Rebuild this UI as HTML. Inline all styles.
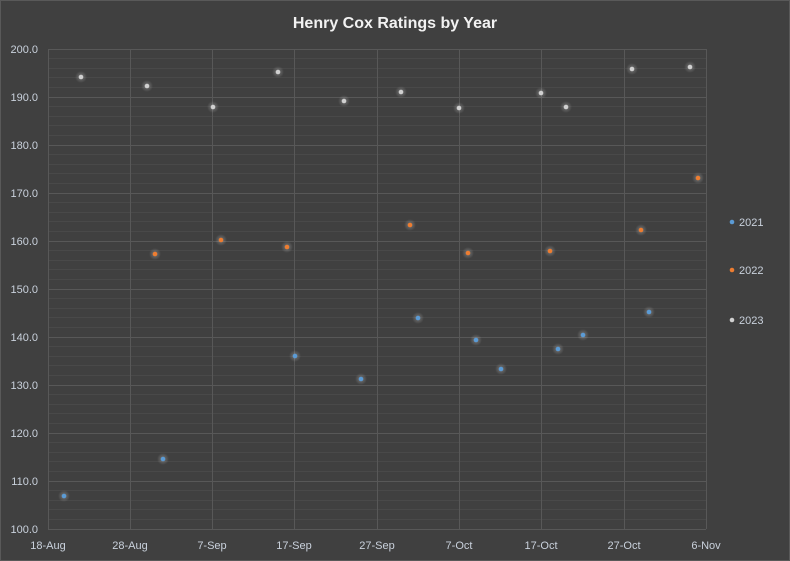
<!DOCTYPE html>
<html><head><style>body{margin:0;background:#404040}svg{display:block}</style></head><body>
<svg width="790" height="561" xmlns="http://www.w3.org/2000/svg" font-family="Liberation Sans, sans-serif">
<defs>
<radialGradient id="gw"><stop offset="0" stop-color="#fff" stop-opacity="0.3"/><stop offset="1" stop-color="#fff" stop-opacity="0"/></radialGradient>
</defs>
<rect x="0.5" y="0.5" width="789" height="560" fill="#404040" stroke="#595959"/>
<text x="395" y="28" text-anchor="middle" font-size="16" font-weight="bold" fill="#f2f2f2">Henry Cox Ratings by Year</text>
<g stroke="#494949" stroke-width="1" shape-rendering="crispEdges">
<path d="M48 58.5H706M48 68.5H706M48 77.5H706M48 87.5H706M48 106.5H706M48 116.5H706M48 125.5H706M48 135.5H706M48 154.5H706M48 164.5H706M48 173.5H706M48 183.5H706M48 202.5H706M48 212.5H706M48 221.5H706M48 231.5H706M48 250.5H706M48 260.5H706M48 269.5H706M48 279.5H706M48 298.5H706M48 308.5H706M48 317.5H706M48 327.5H706M48 346.5H706M48 356.5H706M48 365.5H706M48 375.5H706M48 394.5H706M48 404.5H706M48 413.5H706M48 423.5H706M48 442.5H706M48 452.5H706M48 461.5H706M48 471.5H706M48 490.5H706M48 500.5H706M48 509.5H706M48 519.5H706"/>
</g>
<g stroke="#585858" stroke-width="1" shape-rendering="crispEdges">
<path d="M48 49.5H706M48 97.5H706M48 145.5H706M48 193.5H706M48 241.5H706M48 289.5H706M48 337.5H706M48 385.5H706M48 433.5H706M48 481.5H706M48 529.5H706"/>
<path d="M48.5 49V529M130.5 49V529M212.5 49V529M294.5 49V529M377.5 49V529M459.5 49V529M541.5 49V529M624.5 49V529M706.5 49V529"/>
</g>
<g font-size="11" fill="#c9d1dc" text-anchor="end">
<text x="38" y="53">200.0</text><text x="38" y="101">190.0</text><text x="38" y="149">180.0</text><text x="38" y="197">170.0</text><text x="38" y="245">160.0</text><text x="38" y="293">150.0</text><text x="38" y="341">140.0</text><text x="38" y="389">130.0</text><text x="38" y="437">120.0</text><text x="38" y="485">110.0</text><text x="38" y="533">100.0</text>
</g>
<g font-size="11" fill="#c9d1dc" text-anchor="middle">
<text x="48" y="549">18-Aug</text><text x="130" y="549">28-Aug</text><text x="212" y="549">7-Sep</text><text x="294" y="549">17-Sep</text><text x="377" y="549">27-Sep</text><text x="459" y="549">7-Oct</text><text x="541" y="549">17-Oct</text><text x="624" y="549">27-Oct</text><text x="706" y="549">6-Nov</text>
</g>
<g fill="#5b9bd5">
<circle cx="64" cy="496" r="6" fill="url(#gw)"/><circle cx="64" cy="496" r="2.3"/>
<circle cx="163" cy="459" r="6" fill="url(#gw)"/><circle cx="163" cy="459" r="2.3"/>
<circle cx="295" cy="356" r="6" fill="url(#gw)"/><circle cx="295" cy="356" r="2.3"/>
<circle cx="361" cy="379" r="6" fill="url(#gw)"/><circle cx="361" cy="379" r="2.3"/>
<circle cx="418" cy="318" r="6" fill="url(#gw)"/><circle cx="418" cy="318" r="2.3"/>
<circle cx="476" cy="340" r="6" fill="url(#gw)"/><circle cx="476" cy="340" r="2.3"/>
<circle cx="501" cy="369" r="6" fill="url(#gw)"/><circle cx="501" cy="369" r="2.3"/>
<circle cx="558" cy="349" r="6" fill="url(#gw)"/><circle cx="558" cy="349" r="2.3"/>
<circle cx="583" cy="335" r="6" fill="url(#gw)"/><circle cx="583" cy="335" r="2.3"/>
<circle cx="649" cy="312" r="6" fill="url(#gw)"/><circle cx="649" cy="312" r="2.3"/>
<circle cx="732" cy="222" r="2.3"/>
</g>
<g fill="#ed7d31">
<circle cx="155" cy="254" r="6" fill="url(#gw)"/><circle cx="155" cy="254" r="2.3"/>
<circle cx="221" cy="240" r="6" fill="url(#gw)"/><circle cx="221" cy="240" r="2.3"/>
<circle cx="287" cy="247" r="6" fill="url(#gw)"/><circle cx="287" cy="247" r="2.3"/>
<circle cx="410" cy="225" r="6" fill="url(#gw)"/><circle cx="410" cy="225" r="2.3"/>
<circle cx="468" cy="253" r="6" fill="url(#gw)"/><circle cx="468" cy="253" r="2.3"/>
<circle cx="550" cy="251" r="6" fill="url(#gw)"/><circle cx="550" cy="251" r="2.3"/>
<circle cx="641" cy="230" r="6" fill="url(#gw)"/><circle cx="641" cy="230" r="2.3"/>
<circle cx="698" cy="178" r="6" fill="url(#gw)"/><circle cx="698" cy="178" r="2.3"/>
<circle cx="732" cy="270" r="2.3"/>
</g>
<g fill="#d0d0d0">
<circle cx="81" cy="77" r="6" fill="url(#gw)"/><circle cx="81" cy="77" r="2.3"/>
<circle cx="147" cy="86" r="6" fill="url(#gw)"/><circle cx="147" cy="86" r="2.3"/>
<circle cx="213" cy="107" r="6" fill="url(#gw)"/><circle cx="213" cy="107" r="2.3"/>
<circle cx="278" cy="72" r="6" fill="url(#gw)"/><circle cx="278" cy="72" r="2.3"/>
<circle cx="344" cy="101" r="6" fill="url(#gw)"/><circle cx="344" cy="101" r="2.3"/>
<circle cx="401" cy="92" r="6" fill="url(#gw)"/><circle cx="401" cy="92" r="2.3"/>
<circle cx="459" cy="108" r="6" fill="url(#gw)"/><circle cx="459" cy="108" r="2.3"/>
<circle cx="541" cy="93" r="6" fill="url(#gw)"/><circle cx="541" cy="93" r="2.3"/>
<circle cx="566" cy="107" r="6" fill="url(#gw)"/><circle cx="566" cy="107" r="2.3"/>
<circle cx="632" cy="69" r="6" fill="url(#gw)"/><circle cx="632" cy="69" r="2.3"/>
<circle cx="690" cy="67" r="6" fill="url(#gw)"/><circle cx="690" cy="67" r="2.3"/>
<circle cx="732" cy="320" r="2.3"/>
</g>
<g font-size="11" fill="#c9d1dc">
<text x="739" y="226">2021</text><text x="739" y="274">2022</text><text x="739" y="324">2023</text>
</g>
</svg>
</body></html>
